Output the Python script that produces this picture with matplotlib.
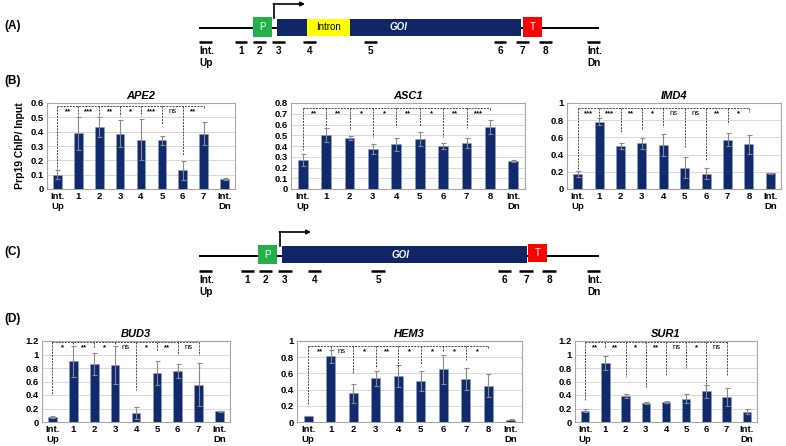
import numpy as np
import matplotlib.pyplot as plt
from matplotlib.patches import Rectangle

plt.rcParams['font.family'] = ['Liberation Sans', 'DejaVu Sans']
plt.rcParams['font.weight'] = 'bold'

W, H = 786, 446
navy = '#0f2566'
bar_col = '#102a6b'

# ---------- chart data ----------
cats9 = ['Int.\nUp', '1', '2', '3', '4', '5', '6', '7', 'Int.\nDn']
cats11 = ['Int.\nUp', '1', '2', '3', '4', '5', '6', '7', '8', 'Int.\nDn']

ape2_val = [0.10, 0.39, 0.435, 0.385, 0.345, 0.34, 0.13, 0.385, 0.07]
ape2_err = [0.03, 0.115, 0.07, 0.095, 0.14, 0.03, 0.065, 0.08, 0.01]
ape2_sig = ['**', '***', '**', '*', '***', 'ns', '**']
ape2_drop = [0.14, 0.51, 0.51, 0.51, 0.51, 0.455, 0.235, 0.555]

asc1_val = [0.27, 0.50, 0.475, 0.375, 0.415, 0.465, 0.40, 0.43, 0.58, 0.26]
asc1_err = [0.06, 0.065, 0.015, 0.045, 0.06, 0.065, 0.03, 0.045, 0.065, 0.01]
asc1_sig = ['**', '**', '*', '*', '**', '*', '**', '***']
asc1_drop = [0.36, 0.58, 0.55, 0.485, 0.58, 0.59, 0.485, 0.57, 0.73]

imd4_val = [0.175, 0.78, 0.50, 0.53, 0.51, 0.25, 0.18, 0.575, 0.52, 0.185]
imd4_err = [0.03, 0.04, 0.03, 0.065, 0.125, 0.12, 0.06, 0.075, 0.11, 0.005]
imd4_sig = ['***', '***', '**', '*', 'ns', 'ns', '**', '*']
imd4_drop = [0.22, 0.82, 0.65, 0.69, 0.72, 0.49, 0.32, 0.76, 0.9]

bud3_val = [0.075, 0.90, 0.855, 0.85, 0.13, 0.725, 0.755, 0.555, 0.16]
bud3_err = [0.01, 0.23, 0.165, 0.28, 0.09, 0.175, 0.11, 0.32, 0.01]
bud3_sig = ['*', '**', '*', 'ns', '*', '**', 'ns']
bud3_drop = [0.40, 1.14, 1.09, 1.14, 0.48, 1.05, 1.0, 1.0]

hem3_val = [0.075, 0.81, 0.355, 0.54, 0.565, 0.505, 0.65, 0.53, 0.45, 0.03]
hem3_err = [0.005, 0.08, 0.115, 0.095, 0.135, 0.12, 0.18, 0.14, 0.145, 0.005]
hem3_sig = ['**', 'ns', '*', '**', '*', '*', '*', '*']
hem3_drop = [0.21, 0.89, 0.6, 0.67, 0.69, 0.72, 0.87, 0.77, 0.9]

sur1_val = [0.17, 0.88, 0.38, 0.285, 0.295, 0.345, 0.455, 0.37, 0.155]
sur1_err = [0.025, 0.105, 0.03, 0.015, 0.01, 0.065, 0.095, 0.135, 0.04]
sur1_sig = ['**', '**', '*', '**', 'ns', '*', 'ns']
sur1_drop = [0.32, 1.1, 0.66, 0.52, 0.68, 0.8, 0.56, 0.68]

# ---------- diagram data ----------
probe_names = ['Int.\nUp', '1', '2', '3', '4', '5', '6', '7', '8', 'Int.\nDn']
probesA = [(199, 212), (235, 247), (253, 266), (272, 285), (303, 316), (364, 377),
           (494, 506), (516, 529), (539, 552), (587, 600)]
probesC = [(199, 212), (241, 254), (259, 272), (278, 292), (308, 321), (371, 385),
           (498, 511), (519, 533), (542, 556), (587, 600)]

fig = plt.figure(figsize=(W / 100, H / 100), dpi=100)
cv = fig.add_axes([0, 0, 1, 1])
cv.set_xlim(0, W)
cv.set_ylim(H, 0)
cv.axis('off')

for lab, y in [('(A)', 26), ('(B)', 81), ('(C)', 252), ('(D)', 319)]:
    cv.text(4, y, lab, fontsize=8.5, fontweight='bold', va='center', ha='left')


def box(x0, x1, y0, y1, col, txt='', tcol='white', style='normal', tx=None):
    cv.add_patch(Rectangle((x0, y0), x1 - x0, y1 - y0, facecolor=col, edgecolor='none', zorder=3))
    if txt:
        cv.text(tx if tx else (x0 + x1) / 2, (y0 + y1) / 2, txt, color=tcol, fontsize=7,
                fontweight='bold' if style == 'italic' else 'normal', style=style,
                ha='center', va='center', zorder=4)


def diagram(yl, probes, ypr, intron):
    cv.plot([200, 598], [yl, yl], color='black', lw=1.4, zorder=2)
    if intron:
        box(253, 272, yl - 11, yl + 9, '#22b04b', 'P')
        box(277, 307, yl - 9.5, yl + 8, navy)
        box(307, 350, yl - 9.5, yl + 8, '#ffff00', 'Intron', 'black')
        box(350, 521, yl - 9.5, yl + 8, navy, 'GOI', 'white', 'italic', tx=399)
        box(523, 542, yl - 11, yl + 9, '#ff0000', 'T')
        ax0 = 274
    else:
        box(258, 277, yl - 11, yl + 8, '#22b04b', 'P')
        box(282, 527, yl - 10, yl + 7, navy, 'GOI', 'white', 'italic', tx=401)
        box(528, 547, yl - 12, yl + 6, '#ff0000', 'T')
        ax0 = 280
    cv.plot([ax0, ax0], [yl - 10, yl - 24], color='black', lw=1.2, zorder=5)
    cv.annotate('', xy=(ax0 + 31, yl - 24), xytext=(ax0 - 0.6, yl - 24),
                arrowprops=dict(arrowstyle='-|>', color='black', lw=1.2,
                                mutation_scale=6, shrinkA=0, shrinkB=0), zorder=5)
    for name, (a, b) in zip(probe_names, probes):
        cv.plot([a, b], [ypr, ypr], color='black', lw=1.8, solid_capstyle='butt')
        if name.startswith('Int'):
            cv.text(a, ypr + 4, name, fontsize=7.2, ha='left', va='top', linespacing=1.25)
        else:
            cv.text((a + b) / 2, ypr + 4, name, fontsize=7.2, ha='center', va='top')


diagram(28, probesA, 42, True)
diagram(256, probesC, 271, False)


def chart(px, title, cats, vals, errs, ymax, ystep, top, drops, sig, ylabel=None):
    l, r, t, b = px
    ax = fig.add_axes([l / W, 1 - b / H, (r - l) / W, (b - t) / H])
    x = np.arange(len(cats))
    ax.bar(x, vals, width=0.42, color=bar_col, edgecolor='#8da0c8', linewidth=0.4, zorder=3)
    ax.errorbar(x, vals, yerr=errs, fmt='none', ecolor='#8a8a8a', elinewidth=0.8,
                capsize=1.8, capthick=0.8, zorder=4)
    ax.set_xlim(-0.5, len(cats) - 0.5)
    ax.set_ylim(0, ymax)
    ticks = np.round(np.arange(0, ymax + ystep / 2, ystep), 2)
    ax.set_yticks(ticks)
    ax.set_yticklabels(['%g' % v for v in ticks], fontsize=6.8, fontweight='bold')
    ax.set_xticks(x)
    ax.set_xticklabels(cats, fontsize=6.8, fontweight='bold', linespacing=1.2)
    ax.tick_params(length=0, pad=2)
    ax.grid(axis='y', color='#d9d9d9', lw=0.7, zorder=0)
    for s in ax.spines.values():
        s.set_color('#a6a6a6')
        s.set_linewidth(0.8)
    ax.set_title(title, fontsize=8, fontweight='bold', style='italic', pad=3)
    n = len(drops)
    dash = (0, (2, 1.2))
    ax.plot([0, n - 1], [top, top], color='#444444', lw=0.7, ls=dash, zorder=5)
    for i, d in enumerate(drops):
        ax.plot([i, i], [top, d], color='#444444', lw=0.7, ls=dash, zorder=5)
    for k, s in enumerate(sig):
        ax.annotate(s, (k + 0.5, top), xytext=(0, -4), textcoords='offset points',
                    ha='center', va='center', fontsize=5.5,
                    fontweight='normal' if s == 'ns' else 'bold', zorder=6)
    if ylabel:
        ax.set_ylabel(ylabel, fontsize=7.5, fontweight='bold', labelpad=4)
    return ax


chart((47, 235, 103, 189), 'APE2', cats9, ape2_val, ape2_err, 0.6, 0.1, 0.578, ape2_drop, ape2_sig,
      ylabel='Prp19 ChIP/ Input')
chart((291, 525, 103, 189), 'ASC1', cats11, asc1_val, asc1_err, 0.8, 0.1, 0.755, asc1_drop, asc1_sig)
chart((567, 781, 103, 189), 'IMD4', cats11, imd4_val, imd4_err, 1.0, 0.2, 0.945, imd4_drop, imd4_sig)
chart((42, 230, 341, 422), 'BUD3', cats9, bud3_val, bud3_err, 1.2, 0.2, 1.18, bud3_drop, bud3_sig)
chart((297, 522, 341, 422), 'HEM3', cats11, hem3_val, hem3_err, 1.0, 0.2, 0.94, hem3_drop, hem3_sig)
chart((575, 757, 341, 422), 'SUR1', cats9, sur1_val, sur1_err, 1.2, 0.2, 1.18, sur1_drop, sur1_sig)

fig.savefig('out.png', dpi=100)
